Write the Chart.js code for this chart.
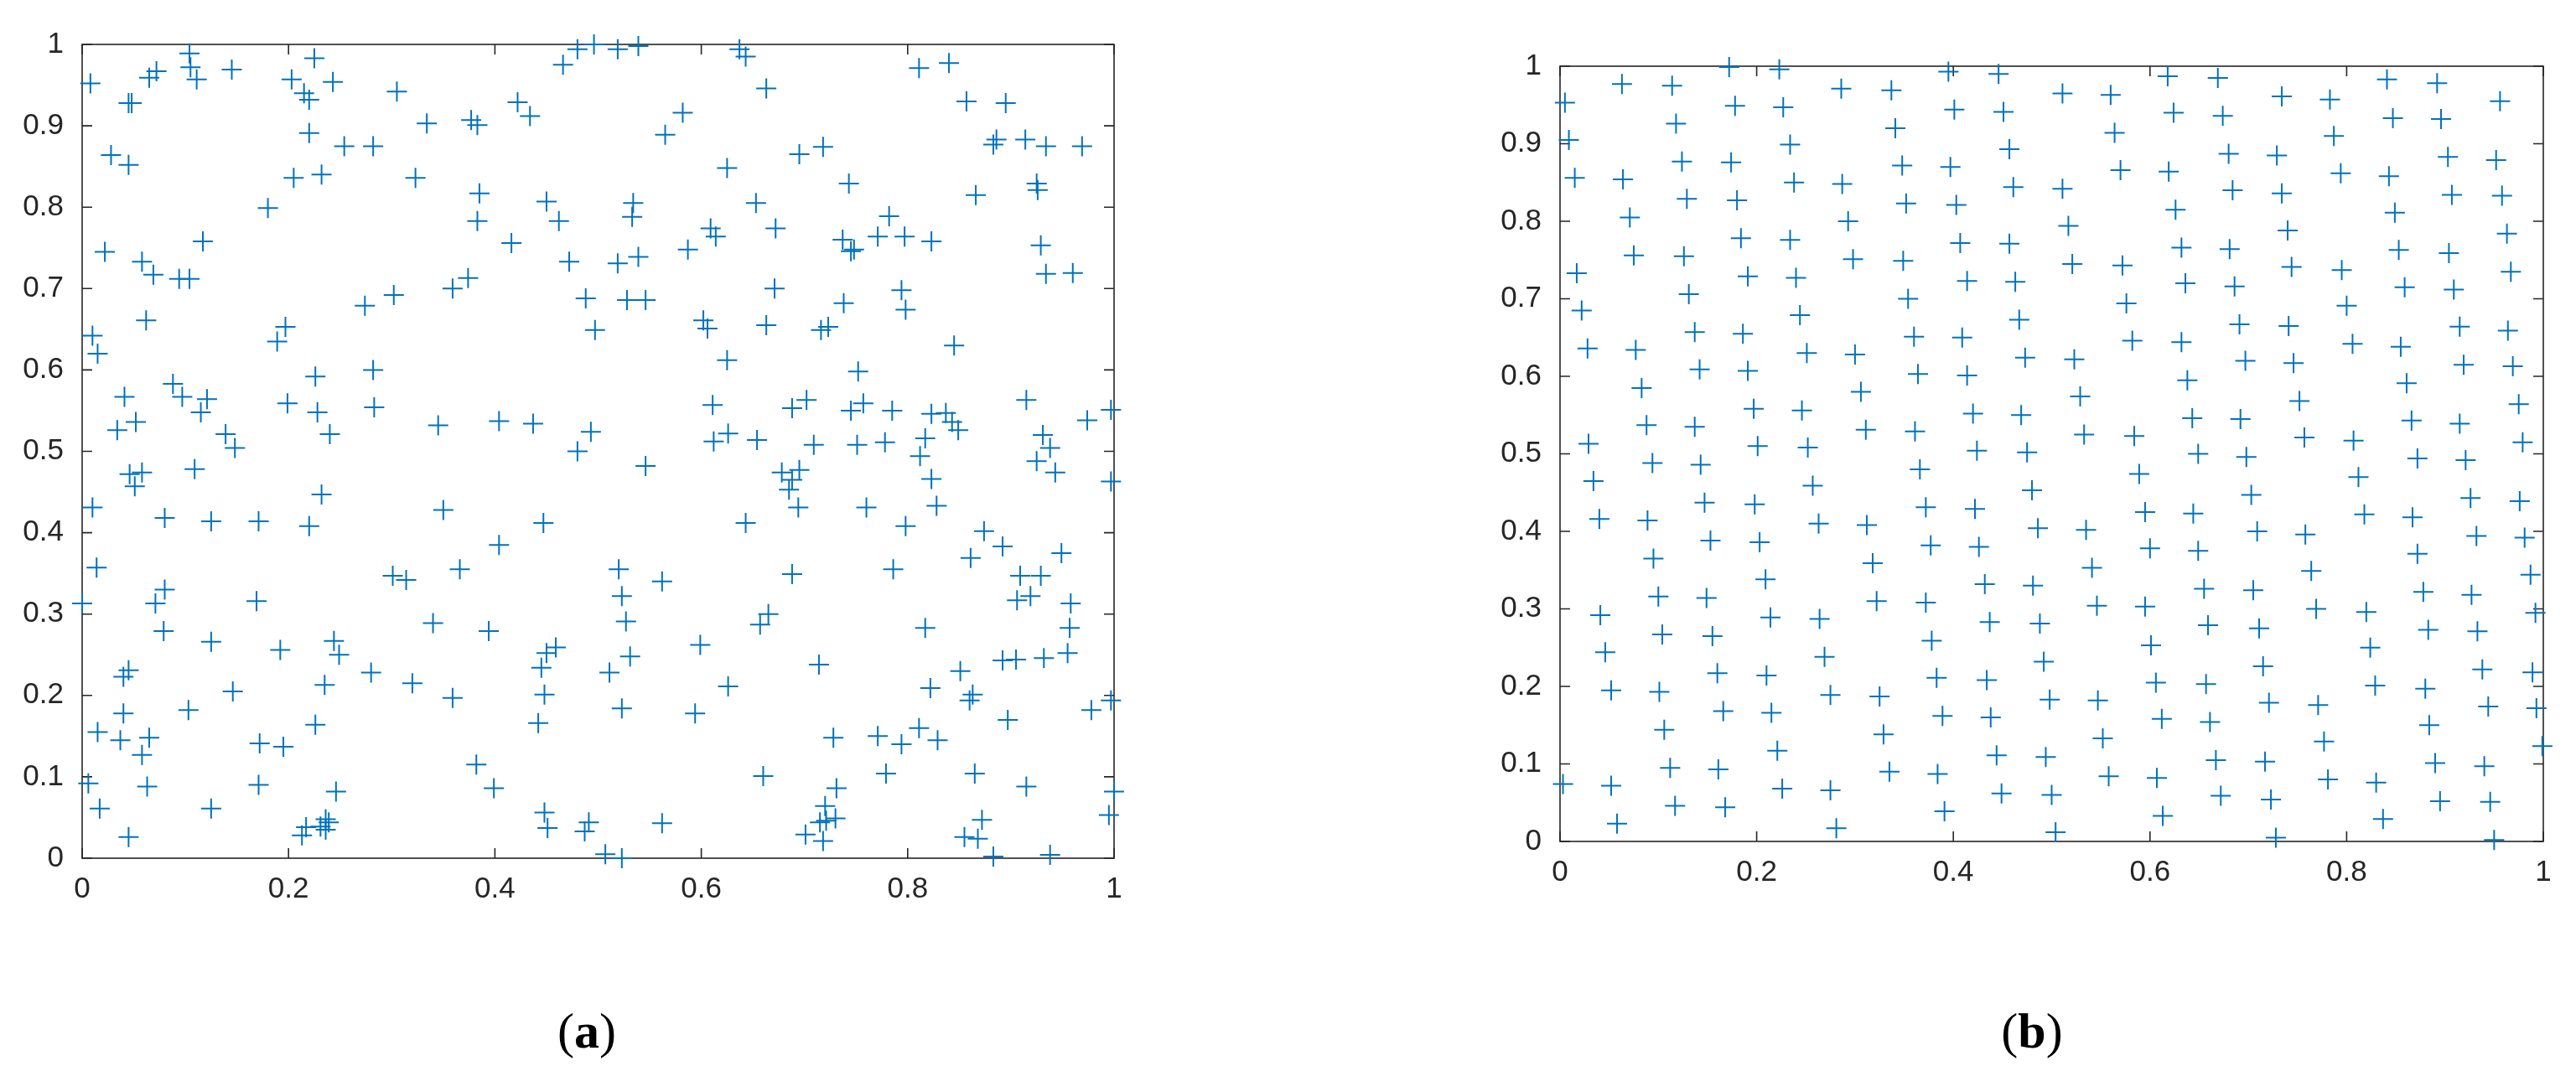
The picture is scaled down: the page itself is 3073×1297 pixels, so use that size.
<!DOCTYPE html>
<html>
<head>
<meta charset="utf-8">
<script src="https://cdn.jsdelivr.net/npm/chart.js@4.4.1/dist/chart.umd.min.js"></script>
<style>
  html, body { margin: 0; padding: 0; background: #fff; }
  body { width: 3073px; height: 1297px; position: relative; overflow: hidden; }
  canvas { position: absolute; top: 0; }
  #chartA { left: 0; }
  #chartB { left: 1760px; }
  .panel {
    position: absolute; top: 1196px; width: 200px; text-align: center;
    font-family: "Liberation Serif", "DejaVu Serif", serif; font-size: 60px; color: #000;
  }
  .panel b { font-weight: bold; }
</style>
</head>
<body>
<canvas id="chartA" width="1400" height="1104"></canvas>
<canvas id="chartB" width="1313" height="1084"></canvas>
<div class="panel" id="labelA" style="left:600px"></div>
<div class="panel" id="labelB" style="left:2324px"></div>
<script>
// tick values shared by both panels
const xTicks = [0, 0.2, 0.4, 0.6, 0.8, 1];
const yTicks = [0, 0.1, 0.2, 0.3, 0.4, 0.5, 0.6, 0.7, 0.8, 0.9, 1];
const panelLetters = ["a", "b"];

// (a) random points
const pointsA = [
  [0.008,0.952],[0.045,0.928],[0.048,0.928],[0.065,0.959],[0.072,0.967],[0.104,0.989],[0.105,0.972],
  [0.111,0.957],[0.145,0.969],[0.203,0.957],[0.225,0.983],[0.215,0.940],[0.220,0.932],[0.243,0.954],
  [0.305,0.942],[0.334,0.903],[0.220,0.891],[0.028,0.864],[0.045,0.852],[0.254,0.875],[0.282,0.875],
  [0.205,0.836],[0.232,0.840],[0.323,0.836],[0.180,0.799],[0.022,0.745],[0.058,0.733],[0.069,0.717],
  [0.094,0.712],[0.104,0.712],[0.117,0.758],[0.274,0.679],[0.302,0.692],[0.062,0.661],[0.010,0.642],
  [0.015,0.620],[0.197,0.653],[0.189,0.635],[0.226,0.592],[0.282,0.600],[0.088,0.583],[0.097,0.567],
  [0.041,0.567],[0.121,0.564],[0.115,0.548],[0.199,0.559],[0.228,0.548],[0.283,0.554],[0.034,0.526],
  [0.052,0.536],[0.139,0.521],[0.240,0.521],
  [0.466,0.975],[0.480,0.994],[0.496,1.000],[0.519,0.994],[0.539,0.998],[0.637,0.994],[0.643,0.985],
  [0.663,0.946],[0.377,0.907],[0.383,0.901],[0.422,0.929],[0.434,0.912],[0.582,0.916],[0.565,0.889],
  [0.625,0.848],[0.385,0.817],[0.450,0.807],[0.383,0.783],[0.462,0.783],[0.534,0.805],[0.533,0.788],
  [0.653,0.805],[0.609,0.774],[0.614,0.764],[0.672,0.774],[0.416,0.756],[0.587,0.748],[0.472,0.733],
  [0.519,0.731],[0.539,0.739],[0.374,0.713],[0.359,0.700],[0.671,0.700],[0.488,0.688],[0.528,0.686],
  [0.546,0.686],[0.497,0.649],[0.602,0.661],[0.606,0.651],[0.663,0.655],[0.625,0.612],[0.611,0.557],
  [0.345,0.532],[0.404,0.537],[0.437,0.534],[0.493,0.524],[0.626,0.522],[0.612,0.512],[0.654,0.514],
  [0.811,0.971],[0.840,0.977],[0.857,0.930],[0.895,0.928],[0.886,0.883],[0.883,0.877],[0.914,0.883],
  [0.934,0.875],[0.969,0.875],[0.695,0.865],[0.718,0.874],[0.743,0.829],[0.866,0.815],[0.925,0.829],
  [0.926,0.821],[0.782,0.789],[0.737,0.760],[0.745,0.746],[0.748,0.748],[0.771,0.764],[0.797,0.764],
  [0.823,0.758],[0.929,0.753],[0.934,0.718],[0.960,0.719],[0.794,0.698],[0.798,0.674],[0.738,0.682],
  [0.716,0.649],[0.723,0.653],[0.845,0.630],[0.752,0.598],[0.702,0.563],[0.688,0.553],[0.745,0.550],
  [0.757,0.559],[0.785,0.550],[0.823,0.546],[0.837,0.547],[0.843,0.536],[0.849,0.526],[0.915,0.563],
  [0.974,0.538],[0.997,0.551],[0.931,0.520],[0.817,0.516],
  [0.148,0.504],[0.046,0.472],[0.058,0.474],[0.051,0.457],[0.109,0.478],[0.232,0.447],[0.010,0.431],
  [0.080,0.418],[0.125,0.414],[0.171,0.414],[0.220,0.408],[0.014,0.357],[0.080,0.330],[0.071,0.313],
  [0.000,0.313],[0.169,0.316],[0.301,0.347],[0.314,0.342],[0.340,0.289],[0.079,0.279],[0.125,0.266],
  [0.192,0.256],[0.244,0.267],[0.249,0.250],[0.280,0.228],[0.320,0.215],[0.045,0.231],[0.040,0.223],
  [0.235,0.213],[0.146,0.205],[0.103,0.182],[0.040,0.178],[0.015,0.155],[0.037,0.145],[0.065,0.148],
  [0.058,0.127],[0.226,0.164],[0.172,0.141],[0.195,0.137],[0.006,0.092],[0.063,0.088],[0.171,0.090],
  [0.246,0.082],[0.017,0.061],[0.125,0.061],[0.045,0.026],[0.213,0.028],[0.217,0.038],[0.231,0.039],
  [0.236,0.048],[0.239,0.044],[0.236,0.035],
  [0.480,0.500],[0.546,0.482],[0.350,0.428],[0.447,0.412],[0.643,0.412],[0.404,0.385],[0.366,0.355],
  [0.520,0.355],[0.562,0.340],[0.523,0.322],[0.527,0.291],[0.394,0.279],[0.665,0.300],[0.657,0.287],
  [0.599,0.262],[0.459,0.259],[0.450,0.252],[0.445,0.234],[0.531,0.248],[0.511,0.228],[0.359,0.197],
  [0.448,0.201],[0.626,0.211],[0.523,0.184],[0.594,0.178],[0.442,0.166],[0.660,0.101],[0.382,0.115],
  [0.399,0.086],[0.448,0.056],[0.451,0.037],[0.491,0.044],[0.487,0.033],[0.562,0.043],[0.507,0.005],
  [0.523,0.000],
  [0.709,0.508],[0.751,0.508],[0.778,0.511],[0.938,0.504],[0.812,0.494],[0.823,0.466],[0.828,0.433],
  [0.925,0.488],[0.943,0.474],[0.997,0.463],[0.678,0.474],[0.695,0.477],[0.688,0.465],[0.685,0.453],
  [0.694,0.431],[0.760,0.431],[0.798,0.408],[0.874,0.402],[0.892,0.383],[0.861,0.369],[0.949,0.375],
  [0.909,0.347],[0.929,0.347],[0.906,0.317],[0.919,0.322],[0.958,0.313],[0.688,0.349],[0.786,0.355],
  [0.817,0.283],[0.957,0.283],[0.955,0.252],[0.892,0.243],[0.905,0.244],[0.932,0.246],[0.714,0.238],
  [0.851,0.230],[0.822,0.209],[0.860,0.194],[0.863,0.201],[0.897,0.170],[0.978,0.182],[0.997,0.194],
  [0.728,0.148],[0.771,0.150],[0.794,0.140],[0.811,0.160],[0.829,0.145],[0.779,0.104],[0.865,0.104],
  [0.915,0.088],[1.000,0.082],[0.995,0.053],[0.731,0.086],[0.720,0.064],[0.715,0.044],[0.721,0.046],
  [0.730,0.049],[0.701,0.029],[0.718,0.021],[0.872,0.047],[0.855,0.026],[0.868,0.024],[0.883,0.002],
  [0.938,0.004]
];

// (b) evenly spread points
const pointsB = [
  [0.005,0.953],[0.063,0.977],[0.114,0.975],[0.172,0.999],[0.223,0.996],[0.286,0.971],[0.178,0.949],
  [0.227,0.947],[0.118,0.926],[0.009,0.905],[0.234,0.899],[0.124,0.877],[0.174,0.876],[0.015,0.856],
  [0.064,0.854],[0.238,0.850],[0.287,0.848],[0.129,0.829],[0.180,0.827],[0.071,0.805],[0.293,0.800],
  [0.184,0.778],[0.234,0.776],[0.075,0.756],[0.126,0.755],[0.298,0.751],[0.017,0.733],[0.191,0.729],
  [0.240,0.727],[0.131,0.706],[0.022,0.685],[0.244,0.679],[0.137,0.657],[0.186,0.655],[0.028,0.636],
  [0.077,0.634],[0.251,0.630],[0.300,0.628],[0.142,0.609],[0.191,0.607],[0.083,0.585],[0.306,0.580],
  [0.197,0.558],[0.246,0.556],[0.088,0.537],[0.137,0.535],[0.311,0.531],[0.029,0.513],[0.201,0.510],
  [0.252,0.508],
  [0.395,0.993],[0.446,0.990],[0.337,0.969],[0.511,0.965],[0.560,0.963],[0.618,0.987],[0.401,0.944],
  [0.451,0.941],[0.341,0.920],[0.564,0.914],[0.624,0.940],[0.457,0.893],[0.348,0.872],[0.397,0.870],
  [0.570,0.866],[0.619,0.864],[0.461,0.844],[0.511,0.842],[0.352,0.823],[0.403,0.821],[0.626,0.815],
  [0.517,0.794],[0.407,0.772],[0.457,0.771],[0.632,0.766],[0.349,0.749],[0.521,0.745],[0.572,0.743],
  [0.414,0.723],[0.463,0.722],[0.636,0.720],[0.354,0.700],[0.576,0.694],[0.467,0.673],[0.360,0.651],
  [0.409,0.650],[0.582,0.646],[0.632,0.644],[0.473,0.624],[0.523,0.622],[0.364,0.603],[0.414,0.601],
  [0.638,0.595],[0.529,0.574],[0.420,0.552],[0.469,0.550],[0.643,0.546],[0.361,0.529],[0.533,0.525],
  [0.584,0.523],[0.424,0.504],[0.475,0.502],[0.649,0.500],
  [0.669,0.985],[0.841,0.983],[0.892,0.978],[0.734,0.961],[0.783,0.957],[0.956,0.955],[0.674,0.936],
  [0.847,0.933],[0.896,0.932],[0.787,0.910],[0.680,0.887],[0.729,0.885],[0.903,0.883],[0.952,0.879],
  [0.794,0.862],[0.843,0.858],[0.684,0.840],[0.734,0.836],[0.907,0.834],[0.958,0.833],[0.849,0.811],
  [0.740,0.788],[0.963,0.784],[0.681,0.764],[0.853,0.763],[0.904,0.759],[0.744,0.741],[0.795,0.737],
  [0.967,0.735],[0.686,0.716],[0.859,0.715],[0.909,0.712],[0.800,0.691],[0.691,0.667],[0.741,0.665],
  [0.915,0.664],[0.964,0.659],[0.806,0.642],[0.855,0.638],[0.697,0.620],[0.746,0.617],[0.919,0.615],
  [0.969,0.613],[0.861,0.591],[0.752,0.568],[0.975,0.564],[0.692,0.545],[0.866,0.543],[0.915,0.539],
  [0.757,0.521],[0.807,0.517],[0.979,0.515],
  [0.094,0.488],[0.143,0.486],[0.034,0.465],[0.257,0.459],[0.147,0.437],[0.198,0.435],[0.040,0.416],
  [0.089,0.414],[0.263,0.410],[0.312,0.408],[0.153,0.388],[0.203,0.386],[0.095,0.365],[0.318,0.359],
  [0.209,0.338],[0.100,0.316],[0.149,0.314],[0.322,0.310],[0.041,0.292],[0.214,0.289],[0.264,0.287],
  [0.104,0.267],[0.155,0.265],[0.046,0.244],[0.269,0.238],[0.160,0.217],[0.210,0.214],[0.052,0.195],
  [0.101,0.193],[0.275,0.189],[0.166,0.168],[0.215,0.166],[0.106,0.144],[0.221,0.117],[0.112,0.095],
  [0.161,0.093],[0.003,0.074],[0.052,0.072],[0.226,0.068],[0.275,0.066],[0.117,0.046],[0.168,0.044],
  [0.058,0.023],[0.281,0.017],
  [0.366,0.480],[0.589,0.474],[0.480,0.453],[0.372,0.431],[0.422,0.429],[0.595,0.425],[0.644,0.423],
  [0.486,0.404],[0.535,0.402],[0.377,0.382],[0.426,0.380],[0.600,0.378],[0.649,0.375],[0.541,0.353],
  [0.432,0.332],[0.481,0.330],[0.655,0.326],[0.372,0.308],[0.546,0.304],[0.595,0.303],[0.437,0.283],
  [0.488,0.281],[0.659,0.279],[0.378,0.259],[0.601,0.253],[0.492,0.232],[0.383,0.211],[0.434,0.208],
  [0.606,0.205],[0.657,0.203],[0.325,0.187],[0.498,0.183],[0.547,0.182],[0.389,0.162],[0.438,0.160],
  [0.612,0.158],[0.661,0.154],[0.329,0.138],[0.552,0.133],[0.444,0.111],[0.494,0.109],[0.335,0.090],
  [0.384,0.087],[0.558,0.084],[0.607,0.082],[0.449,0.062],[0.500,0.060],[0.391,0.039],[0.613,0.033],
  [0.504,0.012],
  [0.698,0.496],[0.872,0.494],[0.921,0.492],[0.812,0.470],[0.703,0.447],[0.926,0.443],[0.976,0.439],
  [0.818,0.422],[0.867,0.418],[0.709,0.400],[0.758,0.396],[0.932,0.394],[0.981,0.392],[0.872,0.371],
  [0.764,0.349],[0.987,0.344],[0.705,0.324],[0.878,0.322],[0.927,0.318],[0.769,0.300],[0.820,0.296],
  [0.992,0.295],[0.711,0.275],[0.883,0.273],[0.933,0.271],[0.824,0.250],[0.715,0.226],[0.938,0.222],
  [0.989,0.218],[0.829,0.201],[0.880,0.197],[0.721,0.179],[0.771,0.176],[0.944,0.174],[0.993,0.172],
  [0.884,0.150],[0.777,0.129],[0.999,0.123],[0.667,0.105],[0.717,0.103],[0.890,0.101],[0.940,0.097],
  [0.781,0.080],[0.830,0.076],[0.672,0.059],[0.723,0.054],[0.895,0.052],[0.946,0.051],[0.837,0.029],
  [0.728,0.005],[0.950,0.002]
];

const AXIS_COLOR = "#262626";
const MARK_COLOR = "#0072BD";
const TICK_LEN = 12;

// matlab style box: frame on all sides with inward ticks, drawn under the markers
const boxTicks = {
  id: "boxTicks",
  beforeDatasetsDraw(chart) {
    const { ctx, chartArea: a } = chart;
    const sx = chart.scales.x, sy = chart.scales.y;
    ctx.save();
    ctx.strokeStyle = AXIS_COLOR;
    ctx.lineWidth = 1.6;
    ctx.strokeRect(a.left, a.top, a.right - a.left, a.bottom - a.top);
    ctx.beginPath();
    xTicks.forEach(function (v) {
      const px = sx.getPixelForValue(v);
      ctx.moveTo(px, a.bottom); ctx.lineTo(px, a.bottom - TICK_LEN);
      ctx.moveTo(px, a.top); ctx.lineTo(px, a.top + TICK_LEN);
    });
    yTicks.forEach(function (v) {
      const py = sy.getPixelForValue(v);
      ctx.moveTo(a.left, py); ctx.lineTo(a.left + TICK_LEN, py);
      ctx.moveTo(a.right, py); ctx.lineTo(a.right - TICK_LEN, py);
    });
    ctx.stroke();
    ctx.restore();
  }
};

function makeChart(id, points, yWidth, pad) {
  const tickFont = { family: "'Liberation Sans', Arial, sans-serif", size: 35 };
  return new Chart(document.getElementById(id).getContext("2d"), {
    type: "scatter",
    data: {
      datasets: [{
        data: points.map(function (p) { return { x: p[0], y: p[1] }; }),
        pointStyle: "cross",
        pointRadius: 12,
        pointBorderWidth: 2,
        borderColor: MARK_COLOR,
        backgroundColor: MARK_COLOR,
        clip: false
      }]
    },
    options: {
      responsive: false,
      animation: false,
      events: [],
      layout: { padding: pad },
      plugins: { legend: { display: false }, tooltip: { enabled: false } },
      scales: {
        x: {
          type: "linear", min: 0, max: 1,
          grid: { display: false, drawTicks: false },
          border: { display: false },
          afterBuildTicks: function (s) { s.ticks = xTicks.map(function (v) { return { value: v }; }); },
          afterFit: function (s) { s.height = 80; },
          ticks: { color: AXIS_COLOR, font: tickFont, padding: 16, maxRotation: 0,
                   callback: function (v) { return String(v); } }
        },
        y: {
          type: "linear", min: 0, max: 1,
          grid: { display: false, drawTicks: false },
          border: { display: false },
          afterBuildTicks: function (s) { s.ticks = yTicks.map(function (v) { return { value: v }; }); },
          afterFit: function (s) { s.width = yWidth; },
          ticks: { color: AXIS_COLOR, font: tickFont, padding: 22,
                   callback: function (v) { return String(v); } }
        }
      }
    },
    plugins: [boxTicks]
  });
}

document.addEventListener("DOMContentLoaded", function () {
  try {
    makeChart("chartA", pointsA, 98, { top: 53, right: 71, bottom: 0, left: 0 });
    makeChart("chartB", pointsB, 101, { top: 79, right: 39, bottom: 0, left: 0 });
  } catch (e) {
    console.error("Error drawing charts", e);
  }
  ["labelA", "labelB"].forEach(function (id, i) {
    document.getElementById(id).innerHTML = "(<b>" + panelLetters[i] + "</b>)";
  });
});
</script>
</body>
</html>
